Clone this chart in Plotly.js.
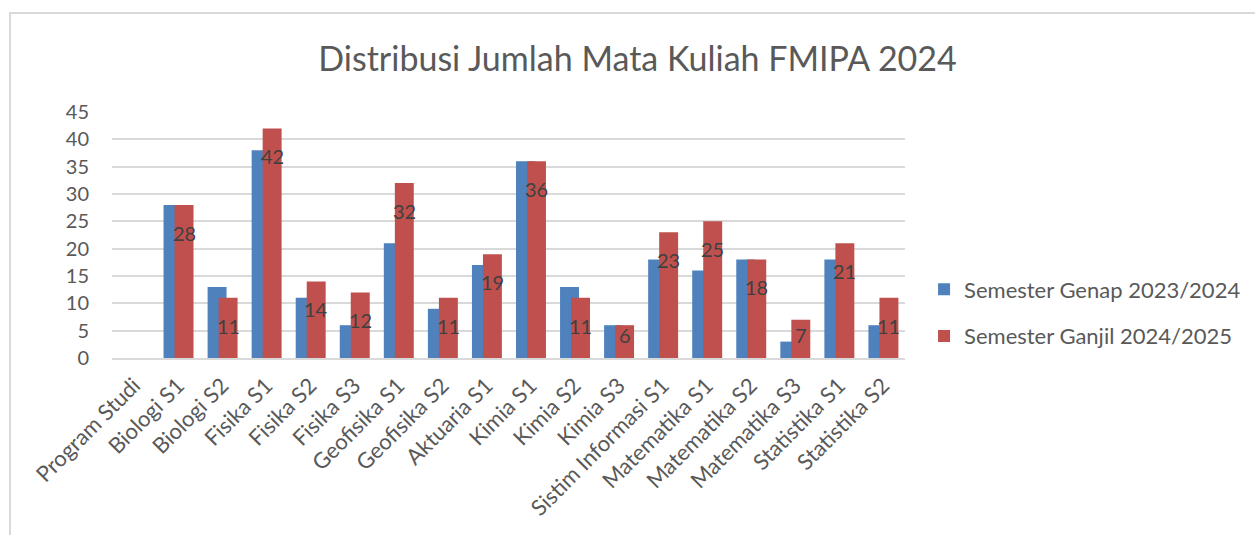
<!DOCTYPE html>
<html>
<head>
<meta charset="utf-8">
<script src="https://cdn.plot.ly/plotly-3.0.1.min.js"></script>
<style>
  html, body { margin: 0; padding: 0; background: #ffffff; }
  #wrap { position: relative; width: 1255px; height: 535px; overflow: hidden; }
  #chart { width: 1255px; height: 535px; }
  #frame { position: absolute; left: 9px; top: 12px; width: 1300px; height: 600px;
           border-left: 2px solid #d9d9d9; border-top: 2px solid #d9d9d9; pointer-events: none; }
</style>
</head>
<body>
<div id="wrap">
  <div id="chart"></div>
  <div id="frame"></div>
</div>
<script>
const categories = ["Program Studi", "Biologi S1", "Biologi S2", "Fisika S1", "Fisika S2", "Fisika S3",
  "Geofisika S1", "Geofisika S2", "Aktuaria S1", "Kimia S1", "Kimia S2", "Kimia S3",
  "Sistim Informasi S1", "Matematika S1", "Matematika S2", "Matematika S3", "Statistika S1", "Statistika S2"];
const genap2324 = [null, 28, 13, 38, 11, 6, 21, 9, 17, 36, 13, 6, 18, 16, 18, 3, 18, 6];
const ganjil2425 = [null, 28, 11, 42, 14, 12, 32, 11, 19, 36, 11, 6, 23, 25, 18, 7, 21, 11];
const seriesNames = ["Semester Genap 2023/2024", "Semester Ganjil 2024/2025"];
const yTicks = [0, 5, 10, 15, 20, 25, 30, 35, 40, 45];

const FONT = "Lato, 'Open Sans', sans-serif";
const GREY = "#595959";

const traces = [
  { type: "bar", name: seriesNames[0], x: categories, y: genap2324,
    marker: { color: "#4F81BD" }, offset: -0.33, width: 0.43, legendgroup: "a",
    hoverinfo: "x+y+name" },
  { type: "bar", name: seriesNames[1], x: categories, y: ganjil2425,
    marker: { color: "#C0504D" }, offset: -0.08, width: 0.43, legendgroup: "b",
    hoverinfo: "x+y+name" }
];

const annotations = [];
categories.forEach((c, i) => {
  const v = ganjil2425[i];
  if (v === null || v === undefined) return;
  annotations.push({
    x: c, y: Math.max(v - 5.1, 4.2), xref: "x", yref: "y",
    text: String(v), showarrow: false, xshift: 6,
    xanchor: "center", yanchor: "middle",
    font: { family: FONT, size: 20, color: "#404040" }
  });
});

const layout = {
  width: 1255, height: 535,
  paper_bgcolor: "#ffffff", plot_bgcolor: "#ffffff",
  margin: { l: 112, r: 350, t: 112, b: 177, pad: 0, autoexpand: false },
  title: { text: "Distribusi Jumlah Mata Kuliah FMIPA 2024",
    font: { family: FONT, size: 34, color: GREY },
    x: 0.508, xanchor: "center", y: 0.89, yanchor: "middle" },
  barmode: "overlay",
  showlegend: true,
  legend: { xref: "container", yref: "container", x: 0.7363, xanchor: "left",
    y: 0.415, yanchor: "middle",
    font: { family: FONT, size: 22, color: GREY },
    tracegroupgap: 15, traceorder: "grouped", bgcolor: "rgba(0,0,0,0)" },
  xaxis: { type: "category", categoryorder: "array", categoryarray: categories,
    tickangle: -45, tickfont: { family: FONT, size: 22, color: GREY },
    showline: true, linecolor: "#d9d9d9", linewidth: 2,
    ticks: "", showgrid: false, zeroline: false, ticklabelstandoff: 4 },
  yaxis: { range: [0, 45], tickvals: yTicks, ticktext: yTicks.map(String),
    tickfont: { family: FONT, size: 20, color: GREY },
    showgrid: true, gridcolor: "#d9d9d9", gridwidth: 2,
    zeroline: false, showline: false, ticks: "", ticklabelstandoff: 22 },
  annotations: annotations
};

Plotly.newPlot("chart", traces, layout, { displayModeBar: false, staticPlot: true });
</script>
</body>
</html>
